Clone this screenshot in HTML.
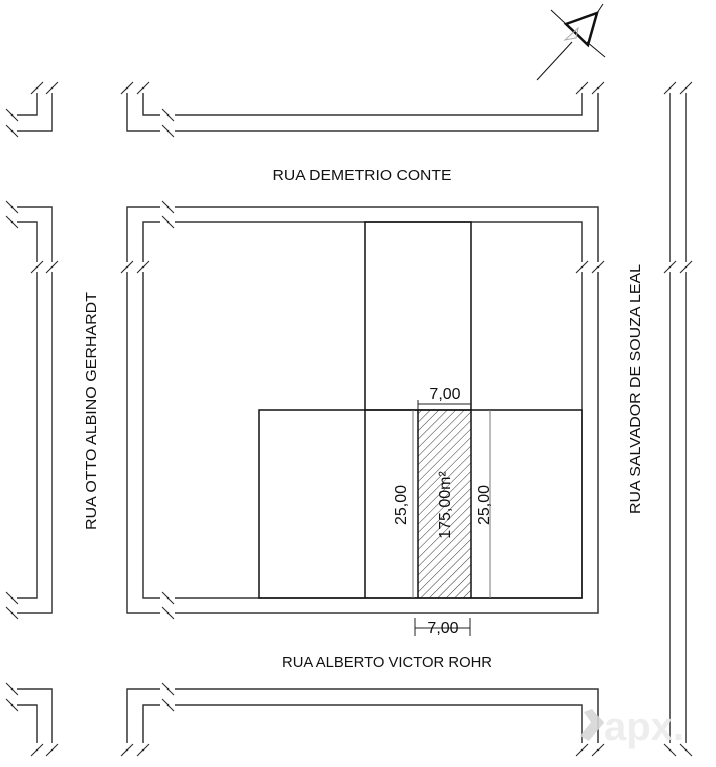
<!DOCTYPE html>
<html><head><meta charset="utf-8"><style>
html,body{margin:0;padding:0;background:#fff;}
svg{display:block;}
text{font-family:"Liberation Sans",Arial,sans-serif;fill:#111;}
</style></head><body>
<svg width="716" height="767" viewBox="0 0 716 767" xmlns="http://www.w3.org/2000/svg">
<defs>
<g id="S"><line x1="-6" y1="6" x2="6" y2="-6" stroke="#222" stroke-width="1"/><circle r="1.3" fill="#222"/></g>
<g id="B"><line x1="-6" y1="-6" x2="6" y2="6" stroke="#222" stroke-width="1"/><circle r="1.3" fill="#222"/></g>
<pattern id="h" width="6" height="6" patternUnits="userSpaceOnUse" patternTransform="rotate(45)"><line x1="0" y1="0" x2="0" y2="6" stroke="#333" stroke-width="1"/></pattern>
</defs>
<g fill="none" stroke="#333" stroke-width="1.5">
<path d="M37 93V115H17M52 93V131H17"/>
<path d="M127 93V131H160M175 131H598V93M143 93V115H160M175 115H582V93"/>
<path d="M17 207H52V262M52 272V613H17M17 222H37V262M37 272V598H17"/>
<path d="M160 207H127V262M127 272V613H160M175 613H598V272M598 262V207H175"/>
<path d="M160 222H143V262M143 272V598H160M175 598H582V272M582 262V222H175"/>
<path d="M127 743V689H160M175 689H598V743M143 743V705H160M175 705H582V743"/>
<path d="M17 689H52V743M17 705H37V743"/>
<path d="M670 93V262M670 272V743M686 93V262M686 272V743"/>
</g>
<use href="#S" x="37" y="88"/><use href="#S" x="52" y="88"/>
<use href="#B" x="12" y="115"/><use href="#B" x="12" y="131"/>
<use href="#S" x="127" y="88"/><use href="#S" x="143" y="88"/><use href="#S" x="582" y="88"/><use href="#S" x="598" y="88"/>
<use href="#B" x="168" y="115"/><use href="#B" x="168" y="131"/>
<use href="#B" x="12" y="207"/><use href="#B" x="12" y="222"/>
<use href="#S" x="37" y="267"/><use href="#S" x="52" y="267"/>
<use href="#B" x="12" y="598"/><use href="#B" x="12" y="613"/>
<use href="#B" x="168" y="207"/><use href="#B" x="168" y="222"/>
<use href="#S" x="127" y="267"/><use href="#S" x="143" y="267"/>
<use href="#S" x="582" y="267"/><use href="#S" x="598" y="267"/>
<use href="#B" x="168" y="598"/><use href="#B" x="168" y="613"/>
<use href="#B" x="168" y="689"/><use href="#B" x="168" y="705"/>
<use href="#S" x="127" y="750"/><use href="#S" x="143" y="750"/><use href="#S" x="582" y="750"/><use href="#S" x="598" y="750"/>
<use href="#B" x="12" y="689"/><use href="#B" x="12" y="705"/>
<use href="#S" x="37" y="750"/><use href="#S" x="52" y="750"/>
<use href="#S" x="670" y="88"/><use href="#S" x="686" y="88"/>
<use href="#S" x="670" y="267"/><use href="#S" x="686" y="267"/>
<use href="#B" x="670" y="750"/><use href="#B" x="686" y="750"/>
<rect x="418" y="410" width="53" height="188" fill="url(#h)"/>
<g fill="none" stroke="#111" stroke-width="1.5">
<rect x="365" y="222" width="106" height="188"/>
<rect x="259" y="410" width="323" height="188"/>
<line x1="365" y1="410" x2="365" y2="598"/>
<line x1="418" y1="410" x2="418" y2="598"/>
<line x1="471" y1="410" x2="471" y2="598"/>
</g>
<g stroke="#777" stroke-width="1"><line x1="413" y1="410" x2="413" y2="598"/><line x1="490" y1="410" x2="490" y2="598"/></g>
<g stroke="#222" stroke-width="1">
<line x1="418" y1="404" x2="471" y2="404"/><line x1="418" y1="400" x2="418" y2="410"/>
<line x1="415" y1="628" x2="470" y2="628"/><line x1="415" y1="618" x2="415" y2="636"/><line x1="470" y1="618" x2="470" y2="636"/>
</g>
<text x="445" y="399" font-size="16" text-anchor="middle">7,00</text>
<text x="443" y="633" font-size="16" text-anchor="middle">7,00</text>
<text transform="translate(406,505) rotate(-90)" font-size="16" text-anchor="middle">25,00</text>
<text transform="translate(489,505) rotate(-90)" font-size="16" text-anchor="middle">25,00</text>
<text transform="translate(450,505) rotate(-90)" font-size="16" text-anchor="middle">175,00m²</text>
<text x="362" y="180" font-size="15" text-anchor="middle" textLength="179" lengthAdjust="spacingAndGlyphs">RUA DEMETRIO CONTE</text>
<text x="387" y="667" font-size="15" text-anchor="middle" textLength="210" lengthAdjust="spacingAndGlyphs">RUA ALBERTO VICTOR ROHR</text>
<text transform="translate(96,411) rotate(-90)" font-size="15" text-anchor="middle" textLength="238" lengthAdjust="spacingAndGlyphs">RUA OTTO ALBINO GERHARDT</text>
<text transform="translate(640,389) rotate(-90)" font-size="15" text-anchor="middle" textLength="250" lengthAdjust="spacingAndGlyphs">RUA SALVADOR DE SOUZA LEAL</text>
<g stroke="#111" fill="none">
<line x1="537" y1="80" x2="572" y2="42" stroke-width="1"/>
<line x1="551" y1="10" x2="566" y2="24" stroke-width="1"/>
<line x1="587" y1="42" x2="605" y2="57" stroke-width="1"/>
<line x1="597" y1="13" x2="603" y2="4" stroke-width="1"/>
<path d="M566 24L597 13L588 45Z" stroke-width="2.5"/>
<path d="M565 40L578 28L576 38Z" stroke="#aaa" stroke-width="1"/>
</g>
<g opacity="0.9">
<path d="M584 712l8-3 12 14-7 8z" fill="#d6d6d6"/><path d="M580 736l17-21 7 7-15 19z" fill="#d6d6d6"/>
<text x="604" y="740" font-size="40" font-weight="bold" style="fill:#ececec">apx.</text>
</g>
</svg>
</body></html>
